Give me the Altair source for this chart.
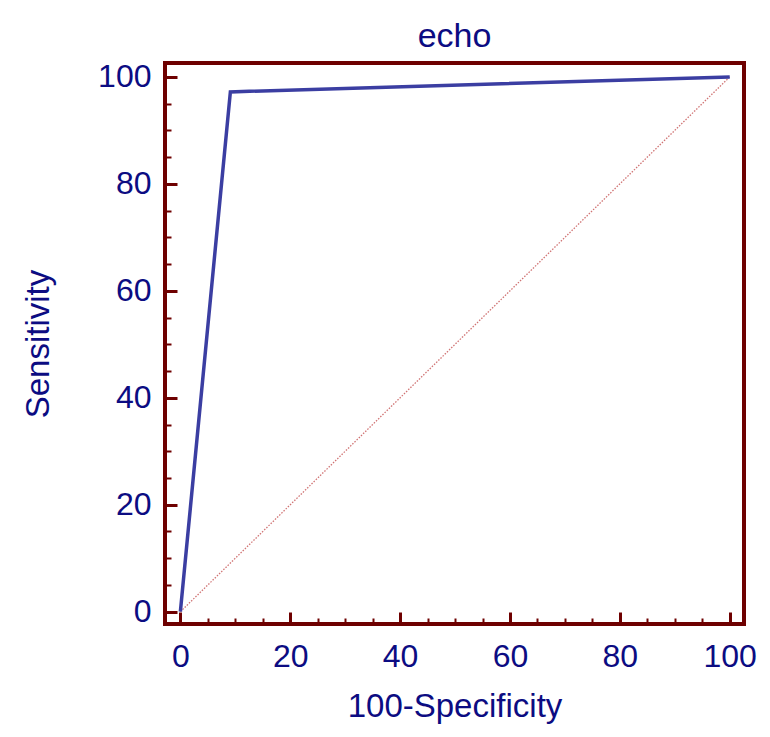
import altair as alt
import pandas as pd

# ROC curve points (100-Specificity, Sensitivity)
roc_x = [0, 9.1, 100]
roc_y = [0, 97.2, 100]
# reference diagonal
diag_x = [0, 100]
diag_y = [0, 100]

major_ticks = [0, 20, 40, 60, 80, 100]
minor_ticks = [5, 10, 15, 25, 30, 35, 45, 50, 55, 65, 70, 75, 85, 90, 95]

FRAME = "#6e0000"
TEXT = "#0c0c82"
CURVE = "#3b3ea2"
FONT = "Liberation Sans"

roc_df = pd.DataFrame({"x": roc_x, "y": roc_y})
diag_df = pd.DataFrame({"x": diag_x, "y": diag_y})

xscale = alt.Scale(domain=[-2.8, 102.6], nice=False, zero=False)
yscale = alt.Scale(domain=[-2.3, 102.6], nice=False, zero=False)

major_common = dict(
    grid=False, domain=False, tickColor=FRAME, tickWidth=3, tickSize=12,
    labelFont=FONT, labelFontSize=32, labelColor=TEXT,
    titleFont=FONT, titleFontSize=33, titleColor=TEXT, titleFontWeight="normal",
    values=major_ticks, offset=-12,
)
minor_common = dict(
    grid=False, domain=False, tickColor=FRAME, tickWidth=2, tickSize=6,
    labels=False, title=None, values=minor_ticks, offset=-6,
)

curve = alt.Chart(roc_df).mark_line(color=CURVE, strokeWidth=3.5).encode(
    x=alt.X("x:Q", scale=xscale,
            axis=alt.Axis(orient="bottom", title="100-Specificity",
                          labelPadding=17, titlePadding=18, **major_common)),
    y=alt.Y("y:Q", scale=yscale,
            axis=alt.Axis(orient="left", title="Sensitivity",
                          labelPadding=14, titlePadding=42, **major_common)),
)

diag = alt.Chart(diag_df).mark_line(color="#c85a5a", strokeWidth=1.3,
                                    strokeDash=[1.5, 1.5], opacity=0.85).encode(
    x=alt.X("x:Q", scale=xscale, axis=alt.Axis(orient="bottom", **minor_common)),
    y=alt.Y("y:Q", scale=yscale, axis=alt.Axis(orient="left", **minor_common)),
)

chart = alt.layer(diag, curve).resolve_axis(x="independent", y="independent").properties(
    width=579,
    height=561,
    background="white",
    autosize=alt.AutoSizeParams(type="none"),
    padding={"left": 157, "top": 55, "right": 18, "bottom": 105},
    title=alt.TitleParams("echo", font=FONT, fontSize=34, color=TEXT,
                          fontWeight="normal", anchor="middle",
                          baseline="alphabetic", offset=-20),
).configure_view(stroke=FRAME, strokeWidth=4)

chart.save("out.html", embed_options={"renderer": "svg", "actions": False})
